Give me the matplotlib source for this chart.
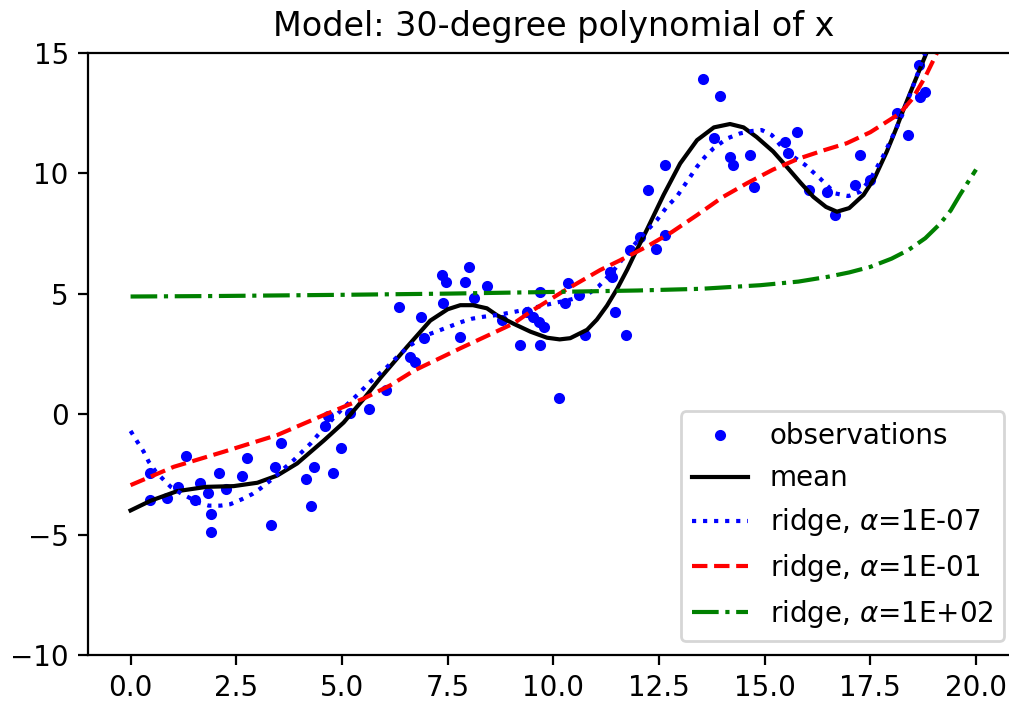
import matplotlib
matplotlib.use('Agg')
from matplotlib import pyplot as plt

# observations
obs_x = [0.47, 0.47, 0.87, 1.13, 1.32, 1.52, 1.65, 1.83, 1.91, 1.91, 2.10, 2.25,
         2.64, 2.76, 3.33, 3.41, 3.55, 4.16, 4.26, 4.33, 4.61, 4.67, 4.79, 4.98,
         5.19, 5.63, 6.05, 6.34, 6.62, 6.74, 6.86, 6.93, 7.37, 7.45, 7.39, 7.80,
         7.92, 8.00, 8.12, 8.43, 8.79, 9.22, 9.38, 9.53, 9.65, 9.77, 9.69, 9.69,
         10.13, 10.28, 10.34, 10.60, 10.76, 11.35, 11.39, 11.47, 11.73, 11.82,
         12.06, 12.25, 12.43, 12.65, 12.65, 13.55, 13.95, 13.79, 14.18, 14.26,
         14.66, 14.74, 15.48, 15.56, 15.76, 16.04, 16.47, 16.67, 17.14, 17.26,
         17.49, 18.12, 18.40, 18.64, 18.68, 18.79]
obs_y = [-2.44, -3.57, -3.50, -3.02, -1.74, -3.57, -2.85, -3.27, -4.16, -4.89, -2.44, -3.13,
         -2.57, -1.84, -4.61, -2.21, -1.18, -2.71, -3.82, -2.21, -0.50, -0.08, -2.44, -1.40,
         0.03, 0.20, 1.00, 4.45, 2.38, 2.17, 4.04, 3.14, 5.77, 5.49, 4.62, 3.21,
         5.49, 6.11, 4.80, 5.31, 3.90, 2.86, 4.25, 4.04, 3.83, 3.62, 5.08, 2.86,
         0.65, 4.60, 5.43, 4.94, 3.28, 5.91, 5.70, 4.25, 3.28, 6.81,
         7.36, 9.30, 6.84, 7.43, 10.34, 13.89, 13.20, 11.44, 10.68, 10.34,
         10.75, 9.44, 11.30, 10.82, 11.72, 9.30, 9.23, 8.26, 9.51, 10.75,
         9.71, 12.48, 11.58, 14.49, 13.17, 13.38]

# mean curve
mean_x = [0.0, 0.47, 1.1, 1.8, 2.44, 3.0, 3.47, 3.94, 4.57, 5.04, 5.5, 5.91, 6.54,
          7.09, 7.5, 7.8, 8.1, 8.43, 8.67, 9.06, 9.46, 9.85, 10.15, 10.4, 10.8,
          11.03, 11.27, 11.51, 11.75, 11.9, 12.21, 12.61, 13.0, 13.4, 13.8, 14.18,
          14.5, 14.81, 15.2, 15.52, 15.85, 16.15, 16.45, 16.71, 17.0, 17.34, 17.6,
          17.89, 18.1, 18.28, 18.55, 18.83, 19.1]
mean_y = [-4.0, -3.6, -3.2, -3.02, -2.99, -2.85, -2.55, -2.05, -1.1, -0.35, 0.6, 1.5, 2.79,
          3.88, 4.35, 4.52, 4.52, 4.39, 4.1, 3.75, 3.42, 3.17, 3.1, 3.15, 3.5,
          3.92, 4.5, 5.2, 6.0, 6.55, 7.64, 9.1, 10.4, 11.37, 11.9, 12.04,
          11.9, 11.5, 10.9, 10.27, 9.6, 9.02, 8.6, 8.4, 8.55, 9.1, 9.8,
          10.9, 11.8, 12.62, 13.8, 15.0, 16.5]

# ridge, alpha=1e-07
r7_x = [0.0, 0.16, 0.31, 0.43, 0.6, 0.75, 0.95, 1.2, 1.42, 1.65, 1.85, 2.13, 2.36,
        2.64, 2.88, 3.07, 3.35, 3.66, 3.86, 4.06, 4.26, 4.41, 4.7, 5.0, 5.36, 5.67,
        6.07, 6.35, 6.62, 7.01, 7.33, 7.6, 7.84, 8.08, 8.35, 8.7, 9.1, 9.5, 10.0,
        10.4, 10.79, 11.07, 11.4, 11.8, 12.1, 12.45, 12.69, 12.92, 13.08, 13.24,
        13.4, 13.59, 13.79, 14.11, 14.42, 14.7, 14.93, 15.17, 15.4, 15.68, 15.96,
        16.31, 16.67, 16.98, 17.26, 17.5, 17.8, 18.1, 18.3, 18.55, 18.8, 19.0]
r7_y = [-0.7, -1.15, -1.56, -1.98, -2.4, -2.67, -3.02, -3.3, -3.5, -3.7, -3.8, -3.8, -3.74,
        -3.53, -3.32, -3.09, -2.7, -2.21, -1.91, -1.56, -1.22, -0.91, -0.35, 0.2, 0.79, 1.34,
        1.96, 2.45, 2.86, 3.28, 3.49, 3.67, 3.83, 3.96, 4.04, 4.12, 4.25, 4.4, 4.6,
        4.75, 4.94, 5.3, 5.9, 6.8, 7.4, 8.05, 8.61, 9.02, 9.44, 9.85,
        10.27, 10.68, 11.03, 11.44, 11.65, 11.75, 11.79, 11.58, 11.1, 10.68, 10.34,
        9.78, 9.16, 9.05, 9.23, 9.75, 10.7, 11.8, 12.6, 13.8, 15.0, 16.2]

# ridge, alpha=1e-01
r1_x = [0.0, 1.02, 2.21, 3.47, 4.57, 5.52, 6.15, 6.7, 7.8, 9.06, 9.46, 10.24, 11.11,
        11.6, 12.21, 12.8, 13.4, 14.0, 14.58, 15.2, 15.8, 16.4, 16.94, 17.5, 18.2,
        18.5, 18.8, 19.07, 19.4]
r1_y = [-2.95, -2.19, -1.56, -0.87, -0.04, 0.65, 1.2, 1.8, 2.73, 3.76, 4.25, 5.1, 5.98,
        6.4, 6.95, 7.55, 8.26, 9.0, 9.58, 10.15, 10.6, 10.95, 11.24, 11.7, 12.48,
        13.1, 14.0, 14.97, 16.5]

# ridge, alpha=1e+02
r2_x = [0.0, 2.0, 5.0, 7.5, 10.0, 12.0, 13.5, 14.9, 15.8, 16.5, 17.0, 17.5, 18.0,
        18.4, 18.8, 19.15, 19.4, 19.62, 19.8, 20.0]
r2_y = [4.88, 4.9, 4.95, 5.0, 5.07, 5.13, 5.2, 5.35, 5.5, 5.7, 5.88, 6.11, 6.45,
        6.81, 7.3, 7.9, 8.45, 9.1, 9.6, 10.15]

fig = plt.figure(figsize=(1009 / 200, 701 / 200), dpi=200)
ax = fig.add_axes([88.3 / 1009, 46 / 701, 930 / 1009, 602.3 / 701])

ax.plot(obs_x, obs_y, 'b.', label='observations')
ax.plot(mean_x, mean_y, 'k-', label='mean')
ax.plot(r7_x, r7_y, 'b:', label=r'ridge, $\alpha$=1E-07')
ax.plot(r1_x, r1_y, 'r--', label=r'ridge, $\alpha$=1E-01')
ax.plot(r2_x, r2_y, 'g-.', label=r'ridge, $\alpha$=1E+02')

ax.set_xlim(-1, 21)
ax.set_ylim(-10, 15)
ax.set_xticks([0, 2.5, 5, 7.5, 10, 12.5, 15, 17.5, 20])
ax.set_title('Model: 30-degree polynomial of x')
ax.legend(loc='lower right')

fig.savefig('out.png', dpi=200)
